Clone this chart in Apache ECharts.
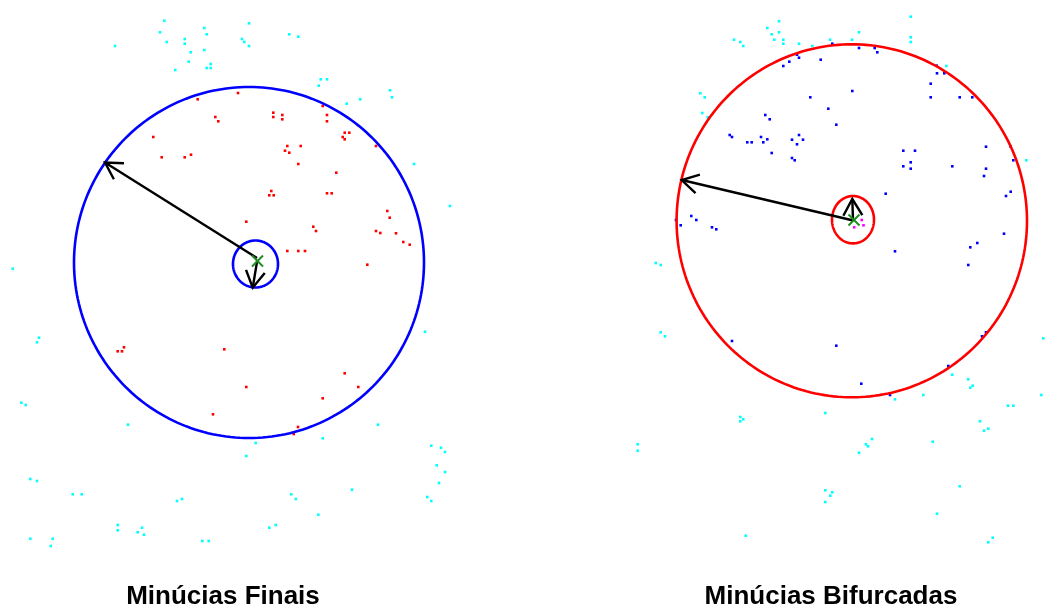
<!DOCTYPE html>
<html><head><meta charset="utf-8">
<script src="https://cdn.jsdelivr.net/npm/echarts@6/dist/echarts.min.js"></script>
<style>html,body{margin:0;padding:0;background:#fff}#c{width:1045px;height:608px}</style>
</head><body><div id="c"></div>
<script>
// Panel titles
const panelTitles = ['Minúcias Finais', 'Minúcias Bifurcadas'];

// Left panel (image coordinates: x to the right, y downwards)
const leftCyan = [[164.3,20.7],[160,32.3],[166.7,42],[184.7,39],[184.7,43.7],[190.7,52.3],[188.7,61.7],[175.3,70],[204.3,28],[206.7,34.3],[204.3,50],[210.7,64],[206.7,68],[210.7,68],[249,23.3],[242,39],[244.3,42],[249,46],[115,46],[12.7,268.7],
[289.3,34.3],[298.3,36.7],[320.7,79.3],[327,79.3],[318.7,85.7],[390,90.3],[392,97.3],[346.7,103.7],[360.3,99.3],[414,164],[450,206],
[39,337.7],[37,342.3],[21.3,402.7],[25.7,405],[128,424.7],[30.3,479],[37,481],[72.7,494.3],[81.7,494.3],[177,501],[182,499],[117.7,525],[117.7,530.3],[142,527.7],[137.7,532.3],[144,534.7],[30.3,538.7],[52.7,538.7],[50.7,546],[202.3,541],[208.7,541],[255.7,443],[246.3,456],
[425,331.7],[378,424.7],[322.7,438.3],[431.3,445.7],[441,447.7],[445,452],[436.7,465.3],[445,472],[439,483],[427.3,497],[431.3,501],[352,489.7],[291.3,494.3],[295.7,499],[318.3,514.7],[269.3,527.7],[275.7,525]];
const leftRed = [[238,93],[197.7,99.3],[215.3,117],[218.3,121.3],[153.3,137],[161.7,157.3],[184.7,157.3],[191,154.7],[246.3,221.7],
[273.3,112.7],[273.3,117],[282.3,115],[282.3,119.3],[322.7,106],[327,115],[327,121.3],[344.7,132.7],[349.3,132.7],[342.7,137],[344.7,139.3],[376,146],[287.3,146],[285,150.7],[289.3,152.7],[300.7,146],[298.3,164],[336.3,172.7],[271.3,191],[269.3,195.3],[273.7,195.3],[327,193.3],[331.7,193.3],[387.3,211],[389.7,217.7],[313.3,226.7],[316,231],[376,231],[380.3,233],[396,233.3],[403.3,242],[409.7,244.7],[287.3,251],[298.3,251],[305,251],[367.3,264.7],
[117.7,351.3],[122,351.3],[124,347.3],[224.3,349.3],[246.3,387],[213,414.3],
[344.7,373.3],[358.3,387],[322.7,398.3],[298,427],[293.7,434]];
const leftCircles = [[249,262.5,175,175.5],[255.5,264,22.5,23.5]];   // cx, cy, rx, ry
const leftArrows = [[257,258,105,162.5],[257.3,260,252.7,287.7]];   // from x,y -> to x,y
const leftCore = [[257.5,261]];

// Right panel
const rightCyan = [[779,21.3],[767.3,28],[771.7,34.3],[779,32.3],[774.3,39.7],[783.3,39.7],[783.3,43.7],[734,39.7],[740.3,42],[743.3,46],[700.3,93.3],[704.7,97.3],[702.3,113],[707.7,117.3],[655.7,263],[660.7,265],
[910.7,16.7],[910.7,37.3],[910.7,42],[859,32.3],[852,39.7],[830,39.7],[812.3,46],[799,43.7],[946.3,66],[1026.3,160.3],
[660.7,332.3],[665,336.3],[740.3,417],[743.3,419.3],[740.3,421.3],[637.7,444.3],[637.7,450.7],[745.7,535.7],
[1043.3,338.3],[1041.3,395],[952.3,374.7],[968.3,379.3],[972.7,385.7],[970.3,387.7],[895,399.3],[923.3,395],[1008,405.7],[1013.3,405.7],[825.3,413],[980,421.3],[984,430.7],[988.3,428.7],[932.7,441.7],[872,439],[866,444.3],[868,446.3],[859,452.7],[959.7,486.3],[825.3,490.3],[832.3,492.3],[830.3,495.7],[825.3,502],[937,513.7],[992.7,537.7],[988.3,542.3]];
const rightBlue = [[783.3,66],[789.3,61.7],[765.3,115],[769.7,119.3],[729.7,135],[732,137],[747.3,142.3],[751.7,142.3],[761,137],[763.3,142.3],[767.3,139.3],[771.7,153],[691.3,216],[696.3,220],[676,220],[680.7,225.3],[712,227.3],[716.3,229.3],
[832.3,43.7],[859,48],[874.7,48],[877.3,52.3],[797,54.7],[799,57.7],[820.7,59.7],[936.7,65.7],[937,73.3],[944.3,73.3],[930.7,83.7],[930.7,97.3],[959.7,97.3],[972.3,97.3],[852.3,91],[810.3,97.3],[828.3,108.7],[836.3,124.7],[792,139.7],[799,135],[803,139.7],[797,144.3],[792,158],[794.7,160.3],[903.3,150.7],[915,150.7],[910.7,162.3],[903.3,166.3],[910.7,168.7],[952.3,166.3],[986,146.7],[1010.7,146.7],[1013.3,160.3],[986,168.7],[984,176],[885.7,193.7],[1010.7,191.7],[1006,196],[1004,233.7],[977.3,243],[970.3,247.3],[895,251.3],[968.3,265],
[732,341],[836.3,345.7],[861.3,383.7],[890,395],[948.3,366],[982,336.3],[986,332.3]];
const rightMagenta = [[861.7,220],[863.5,225.3],[854.2,227.3]];
const rightCircles = [[851.8,220.8,175.2,176.5],[853,219.7,21,23.7]];
const rightArrows = [[853.3,220.5,681.7,180],[853,220,852.3,199]];
const rightCore = [[854,220]];

const chart = echarts.init(document.getElementById('c'), null, {renderer:'canvas'});

function dots(data, color, idx) {
  return {type:'scatter', xAxisIndex:idx, yAxisIndex:idx, data:data, symbol:'rect', symbolSize:2.6,
    itemStyle:{color:color, opacity:1}, silent:true, z:2};
}
function ellipses(data, color, idx) {
  return {type:'custom', xAxisIndex:idx, yAxisIndex:idx, data:data, silent:true, z:3,
    renderItem:function(params, api){
      const cx=api.value(0), cy=api.value(1), rx=api.value(2), ry=api.value(3);
      const pts=[];
      for (let i=0;i<=240;i++){const t=i/240*2*Math.PI; pts.push(api.coord([cx+rx*Math.cos(t), cy+ry*Math.sin(t)]));}
      return {type:'polyline', shape:{points:pts}, style:{stroke:color, lineWidth:2.6, fill:null}};
    }};
}
function arrows(data, idx) {
  return {type:'custom', xAxisIndex:idx, yAxisIndex:idx, data:data, silent:true, z:4,
    renderItem:function(params, api){
      const p1=api.coord([api.value(0), api.value(1)]);
      const p2=api.coord([api.value(2), api.value(3)]);
      const ang=Math.atan2(p1[1]-p2[1], p1[0]-p2[0]);
      const L=19, a=Math.PI/6;
      const h1=[p2[0]+L*Math.cos(ang+a), p2[1]+L*Math.sin(ang+a)];
      const h2=[p2[0]+L*Math.cos(ang-a), p2[1]+L*Math.sin(ang-a)];
      const st={stroke:'#000', lineWidth:2.4, fill:null};
      return {type:'group', children:[
        {type:'line', shape:{x1:p1[0],y1:p1[1],x2:p2[0],y2:p2[1]}, style:st},
        {type:'polyline', shape:{points:[h1,p2,h2]}, style:st}
      ]};
    }};
}
function cores(data, idx) {
  return {type:'custom', xAxisIndex:idx, yAxisIndex:idx, data:data, silent:true, z:5,
    renderItem:function(params, api){
      const p=api.coord([api.value(0), api.value(1)]);
      const s=5.5, st={stroke:'#1e8c1e', lineWidth:2};
      return {type:'group', children:[
        {type:'line', shape:{x1:p[0]-s,y1:p[1]-s,x2:p[0]+s,y2:p[1]+s}, style:st},
        {type:'line', shape:{x1:p[0]-s,y1:p[1]+s,x2:p[0]+s,y2:p[1]-s}, style:st}
      ]};
    }};
}

const titleFont = {fontFamily:'"Liberation Sans", Arial, sans-serif', fontSize:26, fontWeight:'bold', color:'#000'};
chart.setOption({
  animation:false,
  backgroundColor:'#fff',
  title:[
    {text:panelTitles[0], left:218, top:579, textAlign:'center', textStyle:titleFont},
    {text:panelTitles[1], left:826, top:579, textAlign:'center', textStyle:titleFont}
  ],
  grid:[{left:0, top:0, width:522, height:560},{left:522, top:0, width:523, height:560}],
  xAxis:[{type:'value', gridIndex:0, min:0, max:522, show:false},{type:'value', gridIndex:1, min:522, max:1045, show:false}],
  yAxis:[{type:'value', gridIndex:0, min:0, max:560, inverse:true, show:false},{type:'value', gridIndex:1, min:0, max:560, inverse:true, show:false}],
  series:[
    dots(leftCyan, '#00ffff', 0), dots(leftRed, '#ff0000', 0),
    ellipses(leftCircles, '#0000ff', 0), arrows(leftArrows, 0), cores(leftCore, 0),
    dots(rightCyan, '#00ffff', 1), dots(rightBlue, '#0000ff', 1), dots(rightMagenta, '#ff00ff', 1),
    ellipses(rightCircles, '#ff0000', 1), arrows(rightArrows, 1), cores(rightCore, 1)
  ]
});
</script></body></html>
